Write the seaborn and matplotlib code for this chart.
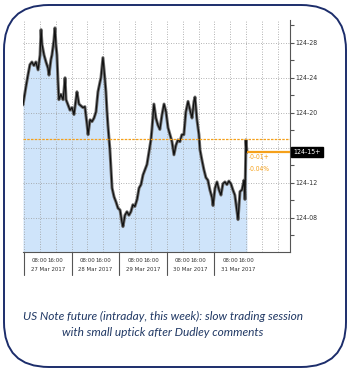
import matplotlib
matplotlib.use("Agg")
import matplotlib.pyplot as plt
import matplotlib.transforms as mtransforms
from matplotlib.patches import FancyBboxPatch
import seaborn as sns
import pandas as pd

# Intraday US 10y note future, hours since 27 Mar 2017 00:00, price in 32nds above 124
hours = [-0.5, 1.0, 2.0, 3.0, 4.0, 5.0, 6.0, 7.1, 8.1, 8.6, 9.1, 10.1, 11.1, 12.1, 12.6,
         13.6, 14.1, 15.1, 15.6, 16.1, 16.6, 17.1, 17.6, 18.6, 19.7, 20.2, 20.7, 21.2,
         22.2, 23.2, 24.2, 25.2, 26.2, 26.7, 27.7, 28.7, 29.7, 30.7, 31.8, 32.3, 33.3,
         34.3, 35.3, 36.3, 37.3, 38.3, 38.8, 39.8, 40.8, 41.3, 41.8, 42.3, 43.3, 44.4,
         45.4, 46.4, 47.4, 48.4, 49.4, 49.9, 50.9, 51.9, 52.9, 53.9, 54.9, 55.9, 57.0,
         58.0, 59.0, 60.0, 61.0, 62.0, 63.0, 64.0, 64.5, 65.5, 66.5, 67.5, 68.5, 69.6,
         70.6, 71.6, 72.6, 73.6, 74.6, 75.6, 76.6, 77.6, 78.6, 79.6, 80.6, 81.6, 82.7,
         83.7, 84.7, 85.7, 86.2, 87.2, 88.2, 88.7, 89.7, 90.7, 91.7, 92.7, 93.7, 94.8,
         95.3, 96.3, 97.3, 98.3, 99.3, 100.3, 101.3, 102.3, 103.3, 104.3, 105.3, 106.3,
         107.4, 107.9, 108.9, 109.9, 110.9, 111.4, 111.9, 112.4]
price_32nds = [20.9, 23.0, 24.3, 25.5, 25.8, 25.4, 25.8, 24.9, 26.6, 29.5, 27.8, 26.6, 25.8,
               25.1, 24.3, 26.1, 26.6, 28.3, 29.7, 27.8, 26.6, 23.8, 21.5, 22.1, 21.5, 22.6,
               24.0, 21.5, 20.9, 20.3, 20.6, 19.8, 21.5, 22.4, 21.0, 20.8, 20.6, 20.7, 18.6,
               17.5, 19.2, 19.0, 19.4, 20.1, 22.4, 23.5, 24.0, 26.3, 23.8, 22.4, 20.3, 18.6,
               15.8, 11.4, 10.4, 9.8, 9.1, 8.9, 7.5, 7.0, 8.3, 8.7, 8.3, 8.7, 9.5, 9.3, 10.1,
               11.4, 11.8, 12.9, 13.5, 14.1, 15.5, 16.9, 18.1, 21.0, 19.4, 18.6, 18.1, 19.8,
               21.0, 20.1, 18.3, 17.5, 16.7, 15.2, 16.3, 16.9, 16.7, 17.5, 17.5, 20.1, 21.3,
               20.3, 19.4, 21.3, 21.8, 19.2, 17.5, 15.8, 14.6, 13.5, 12.6, 12.3, 11.2, 10.3,
               9.4, 11.4, 12.1, 11.2, 10.6, 11.9, 12.1, 11.8, 12.2, 11.9, 11.2, 10.6, 8.7,
               7.8, 11.0, 11.2, 12.3, 10.1, 16.9, 15.5]

prev_close_32nds = 17.0
last_label = "124-15+"
change_labels = ["-0-01+", "-0.04%"]

time_ticks = [8, 16, 32, 40, 56, 64, 80, 88, 104, 112]
time_labels = ["08:00", "16:00"] * 5
day_starts = [0, 24, 48, 72, 96]
day_labels = ["27 Mar 2017", "28 Mar 2017", "29 Mar 2017", "30 Mar 2017", "31 Mar 2017"]
price_ticks_32nds = [8, 12, 16, 20, 24, 28]
caption = ("US Note future (intraday, this week): slow trading session\n"
           "with small uptick after Dudley comments")

sns.set_style("white")
plt.rcParams["font.family"] = ["DejaVu Sans"]
NARROW = ["Liberation Sans Narrow", "DejaVu Sans"]

df = pd.DataFrame({"hour": hours, "price": [124 + p / 32 for p in price_32nds]})
prev_close = 124 + prev_close_32nds / 32

fig = plt.figure(figsize=(3.5, 3.72), dpi=100)
fig.patch.set_facecolor("white")

# rounded frame around the whole panel (pixel coordinates)
frame_ax = fig.add_axes([0, 0, 1, 1], zorder=-1)
frame_ax.set_xlim(0, 350)
frame_ax.set_ylim(372, 0)
frame_ax.axis("off")
frame_ax.add_patch(FancyBboxPatch((4, 5), 342, 362,
                                  boxstyle="round,pad=0,rounding_size=45",
                                  fill=False, ec="#1c2d6b", lw=1.4))

ax = fig.add_axes([23 / 350, 1 - 252 / 372, 267 / 350, 232 / 372])
ax.set_facecolor("none")
ylo, yhi = 124 + 4.1 / 32, 124 + 30.6 / 32
ax.set_xlim(-0.5, 134.1)
ax.set_ylim(ylo, yhi)

# area under the price path
ax.fill_between(df["hour"], df["price"], ylo, color="#cfe4fa", lw=0, zorder=1)
sns.lineplot(data=df, x="hour", y="price", ax=ax, color="#707070", lw=2.2,
             sort=False, zorder=3)
sns.lineplot(data=df, x="hour", y="price", ax=ax, color="#111111", lw=0.9,
             sort=False, zorder=4)

# grid
grid_kw = dict(color="#9a9a9a", lw=0.6, ls=(0, (1, 2)), zorder=2)
for t in range(0, 136, 8):
    ax.axvline(t, **grid_kw)
for p in price_ticks_32nds:
    ax.axhline(124 + p / 32, **grid_kw)

# previous close and last price
ax.axhline(prev_close, color="#f5a01a", lw=0.9, ls=(0, (2, 1)), zorder=5)
last_price = df["price"].iloc[-1]
ax.plot([df["hour"].iloc[-1], 134.1], [last_price, last_price],
        color="#f5a01a", lw=1.6, zorder=5, solid_capstyle="butt")
for lab, lev in zip(change_labels, [14.95, 13.6]):
    ax.text(113.2, 124 + lev / 32, lab, color="#f5a01a", fontsize=4.8,
            va="center", ha="left", family=NARROW, stretch="condensed")

blend = mtransforms.blended_transform_factory(ax.transAxes, ax.transData)
ax.text(1.012, last_price, last_label, transform=blend, color="white", fontsize=5,
        va="center", ha="left", zorder=10, clip_on=False,
        family=NARROW, stretch="condensed",
        bbox=dict(boxstyle="square,pad=0.3", fc="black", ec="black"))

# axes styling
for side in ["left", "top"]:
    ax.spines[side].set_visible(False)
for side in ["right", "bottom"]:
    ax.spines[side].set_color("#555555")
    ax.spines[side].set_linewidth(0.8)
ax.yaxis.tick_right()
ax.set_yticks([124 + p / 32 for p in price_ticks_32nds])
ax.set_yticklabels(["" if p == 16 else f"124-{p:02d}" for p in price_ticks_32nds])
ax.set_yticks([124 + p / 32 for p in range(6, 31, 4)], minor=True)
ax.tick_params(axis="y", which="both", direction="out", length=3, width=0.8,
               color="#555555", labelsize=5, labelcolor="#333333", pad=1)
ax.set_xticks(time_ticks)
ax.set_xticklabels(time_labels)
ax.tick_params(axis="x", direction="out", length=2, width=0.6, color="#555555",
               labelsize=4.3, labelcolor="#333333", pad=2)
for lbl in ax.get_xticklabels() + ax.get_yticklabels():
    lbl.set_family(NARROW)
    lbl.set_stretch("condensed")
ax.set_xlabel("")
ax.set_ylabel("")

# day cells under the axis
xblend = mtransforms.blended_transform_factory(ax.transData, ax.transAxes)
for d0, lab in zip(day_starts, day_labels):
    ax.plot([d0, d0], [0, -0.1], transform=xblend, color="#555555", lw=0.8,
            clip_on=False)
    ax.text(d0 + 12, -0.077, lab, transform=xblend, ha="center", va="center",
            fontsize=4.3, color="#333333", family=NARROW, stretch="condensed")

lines = caption.split("\n")
for txt, ypix in zip(lines, [316, 332]):
    fig.text(163 / 350, 1 - ypix / 372, txt, ha="center", va="center",
             fontsize=8.6, style="italic", color="#203864",
             family=["Lato", "DejaVu Sans"])

fig.savefig("out.png", dpi=100)
